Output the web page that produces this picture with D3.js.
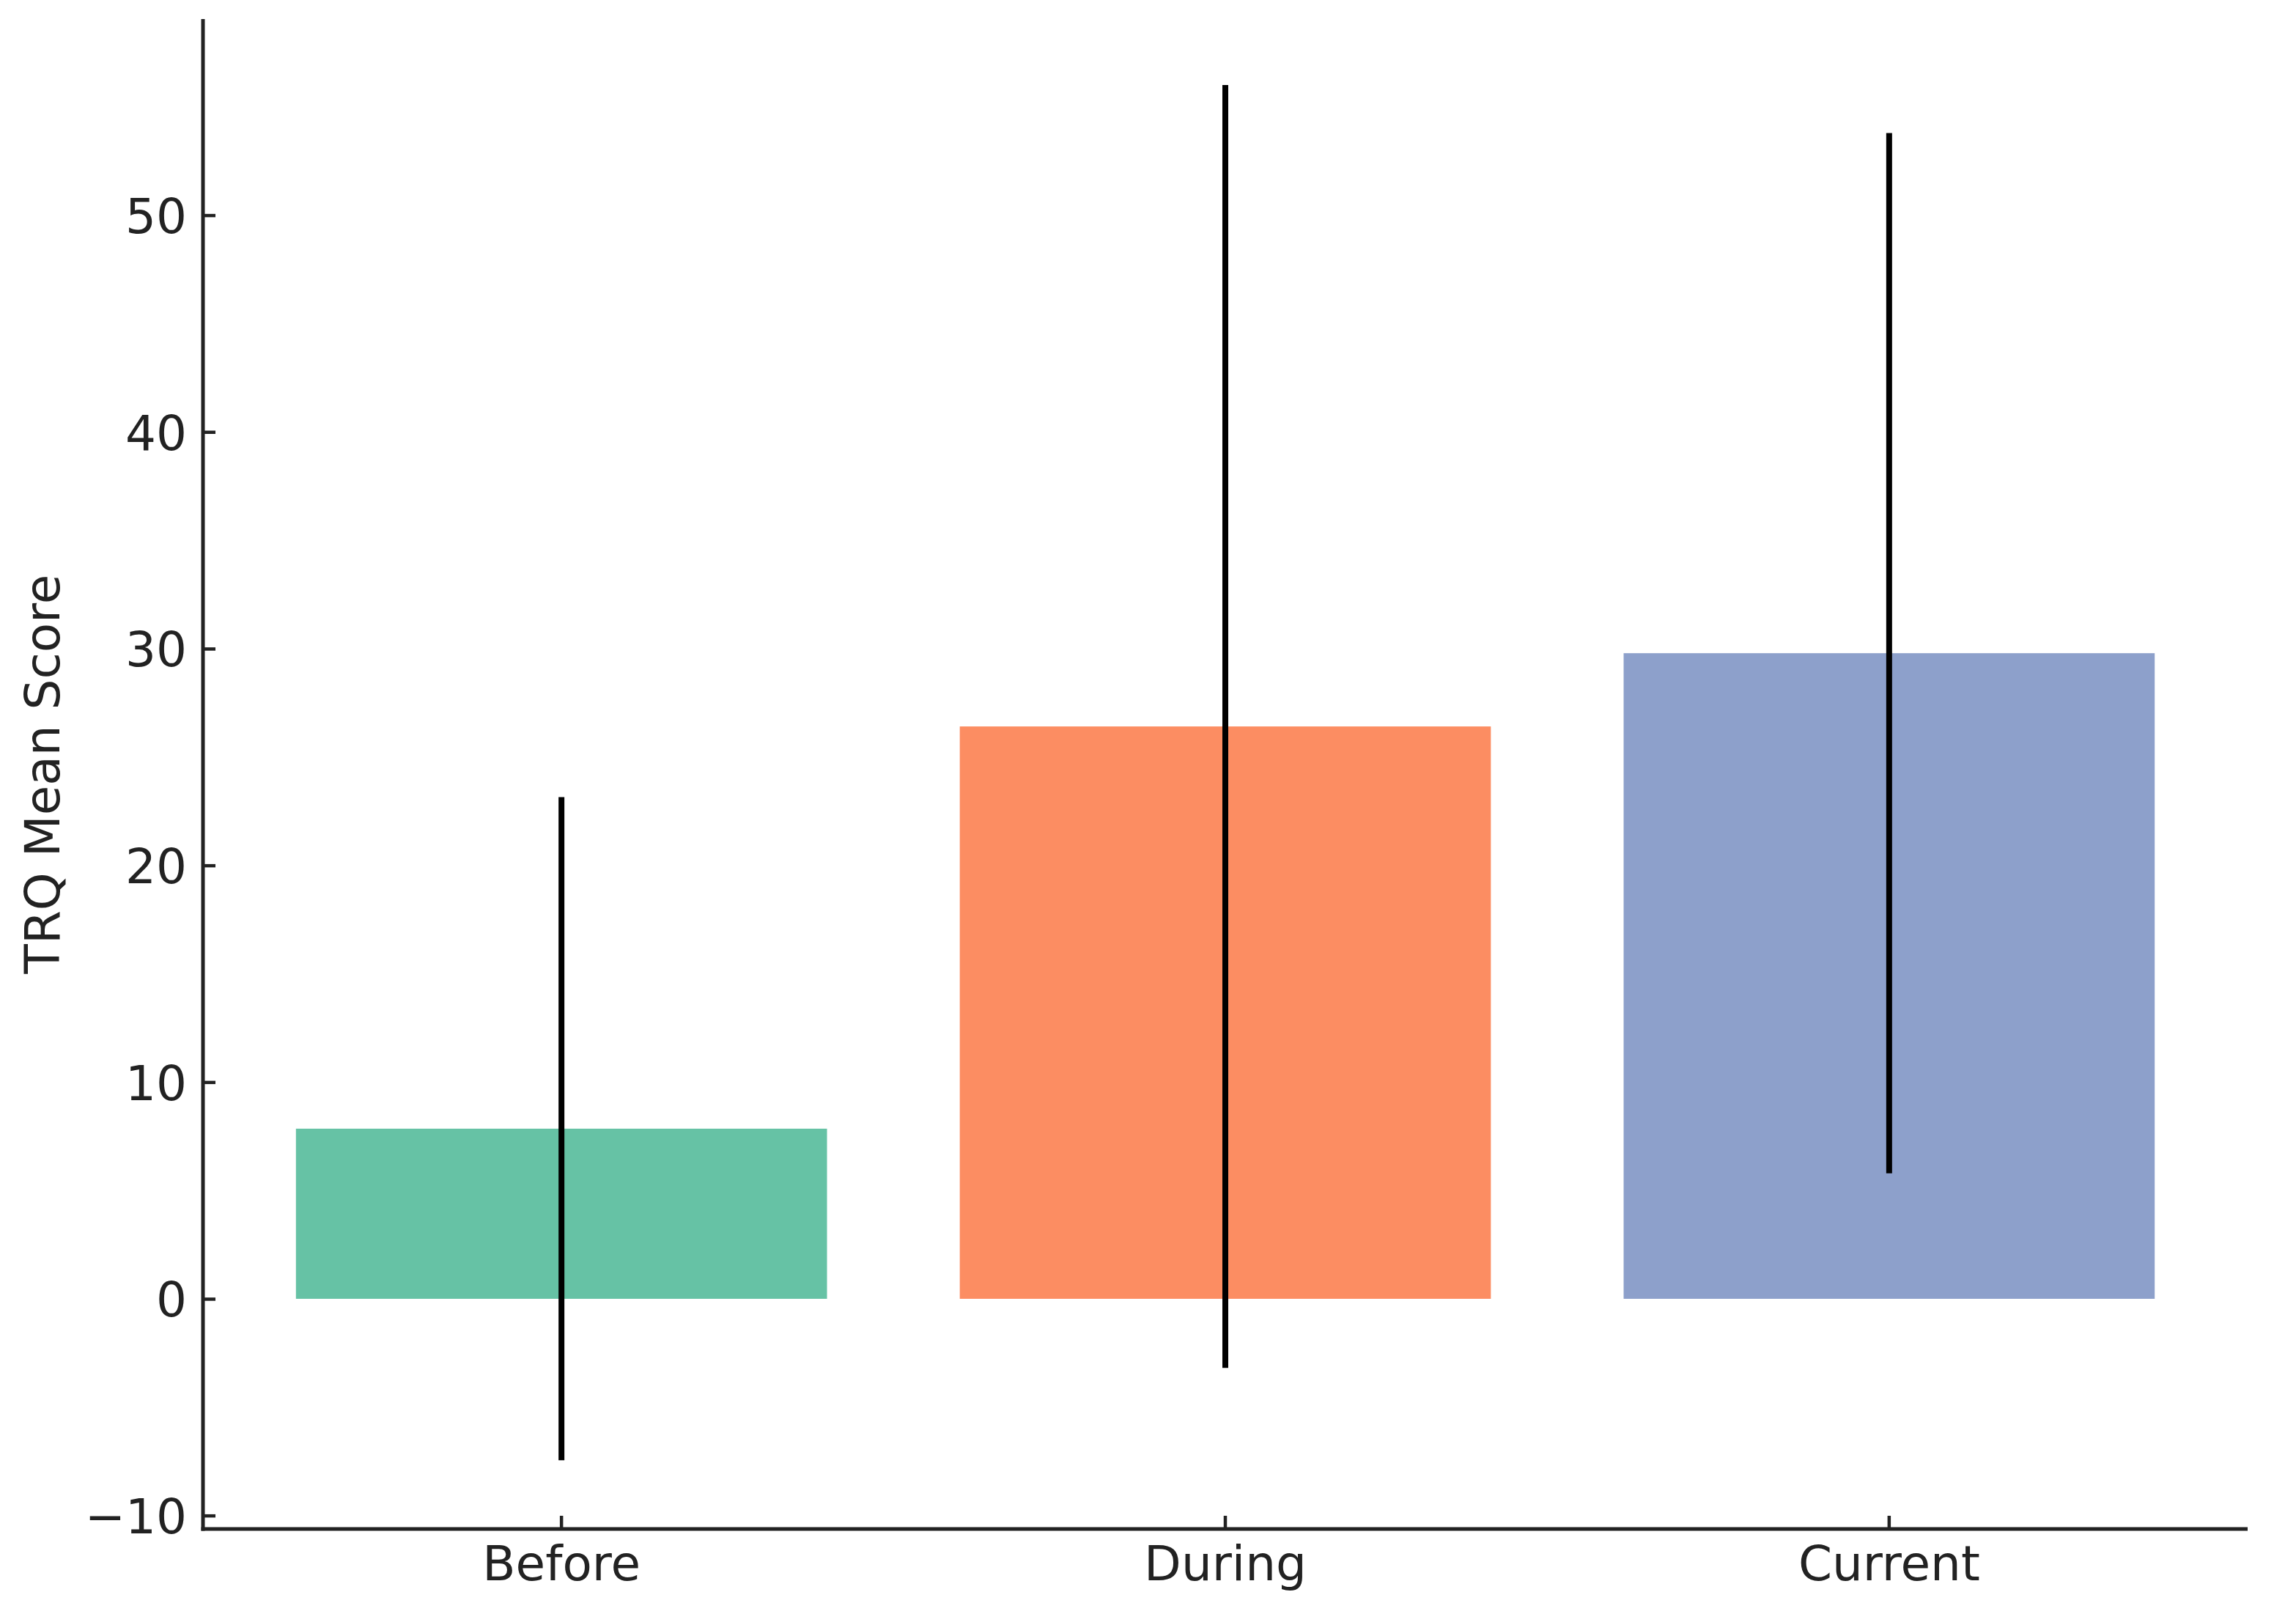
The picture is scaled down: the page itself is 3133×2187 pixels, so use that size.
<!DOCTYPE html>
<html>
<head>
<meta charset="utf-8">
<script src="https://cdn.jsdelivr.net/npm/d3@7"></script>
<style>
  html, body { margin: 0; padding: 0; background: #ffffff; }
  svg { display: block; }
</style>
</head>
<body>
<svg id="chart" width="3133" height="2187"></svg>
<script>
// ---- data ----
const categories = ["Before", "During", "Current"];
const meanScores = [7.85, 26.41, 29.79];
const sdScores = [15.3, 29.6, 24.0];
const barColors = ["#66c2a5", "#fc8d62", "#8da0cb"];
const yTicks = [-10, 0, 10, 20, 30, 40, 50];
const yDomain = [-10.62, 59.05];
const yLabel = "TRQ Mean Score";

// ---- layout ----
const W = 3133, H = 2187;
const plot = { left: 277, top: 26, right: 3067, bottom: 2086 };
const textColor = "#222222";
const fontFamily = "'DejaVu Sans', sans-serif";
const fontSize = 66;

const svg = d3.select("#chart");

const x = d3.scaleBand()
  .domain(categories)
  .range([plot.left, plot.right])
  .paddingInner(0.2)
  .paddingOuter(0.14);

const y = d3.scaleLinear()
  .domain(yDomain)
  .range([plot.bottom, plot.top]);

const rows = categories.map((c, i) => ({ cat: c, mean: meanScores[i], sd: sdScores[i], color: barColors[i] }));

// bars
svg.append("g").selectAll("rect")
  .data(rows).enter().append("rect")
  .attr("x", d => x(d.cat))
  .attr("width", x.bandwidth())
  .attr("y", d => y(Math.max(0, d.mean)))
  .attr("height", d => Math.abs(y(d.mean) - y(0)))
  .attr("fill", d => d.color);

// error bars
svg.append("g").selectAll("line")
  .data(rows).enter().append("line")
  .attr("x1", d => x(d.cat) + x.bandwidth() / 2)
  .attr("x2", d => x(d.cat) + x.bandwidth() / 2)
  .attr("y1", d => y(d.mean - d.sd))
  .attr("y2", d => y(d.mean + d.sd))
  .attr("stroke", "#000000")
  .attr("stroke-width", 8);

// y axis
const yAxis = d3.axisLeft(y).tickValues(yTicks).tickSize(-17).tickPadding(24).tickFormat(d3.format("d"));
const gy = svg.append("g").attr("transform", `translate(${plot.left},0)`).call(yAxis);
gy.select(".domain").remove();
gy.selectAll(".tick line").attr("stroke", textColor).attr("stroke-width", 4.5);
gy.selectAll(".tick text")
  .attr("fill", textColor)
  .attr("font-family", fontFamily)
  .attr("font-size", fontSize)
  .attr("dy", "0.36em")
  .attr("x", -22);

// x axis
const xAxis = d3.axisBottom(x).tickSize(-18).tickPadding(0);
const gx = svg.append("g").attr("transform", `translate(0,${plot.bottom})`).call(xAxis);
gx.select(".domain").remove();
gx.selectAll(".tick line").attr("stroke", textColor).attr("stroke-width", 4.5);
gx.selectAll(".tick text")
  .attr("fill", textColor)
  .attr("font-family", fontFamily)
  .attr("font-size", fontSize)
  .attr("y", 70)
  .attr("dy", 0);

// spines
svg.append("line")
  .attr("x1", plot.left).attr("x2", plot.left)
  .attr("y1", plot.top).attr("y2", plot.bottom + 2.5)
  .attr("stroke", textColor).attr("stroke-width", 5);
svg.append("line")
  .attr("x1", plot.left - 2.5).attr("x2", plot.right)
  .attr("y1", plot.bottom).attr("y2", plot.bottom)
  .attr("stroke", textColor).attr("stroke-width", 5);

// y label
svg.append("text")
  .attr("transform", `translate(81,${(plot.top + plot.bottom) / 2}) rotate(-90)`)
  .attr("text-anchor", "middle")
  .attr("fill", textColor)
  .attr("font-family", fontFamily)
  .attr("font-size", fontSize)
  .text(yLabel);
</script>
</body>
</html>
